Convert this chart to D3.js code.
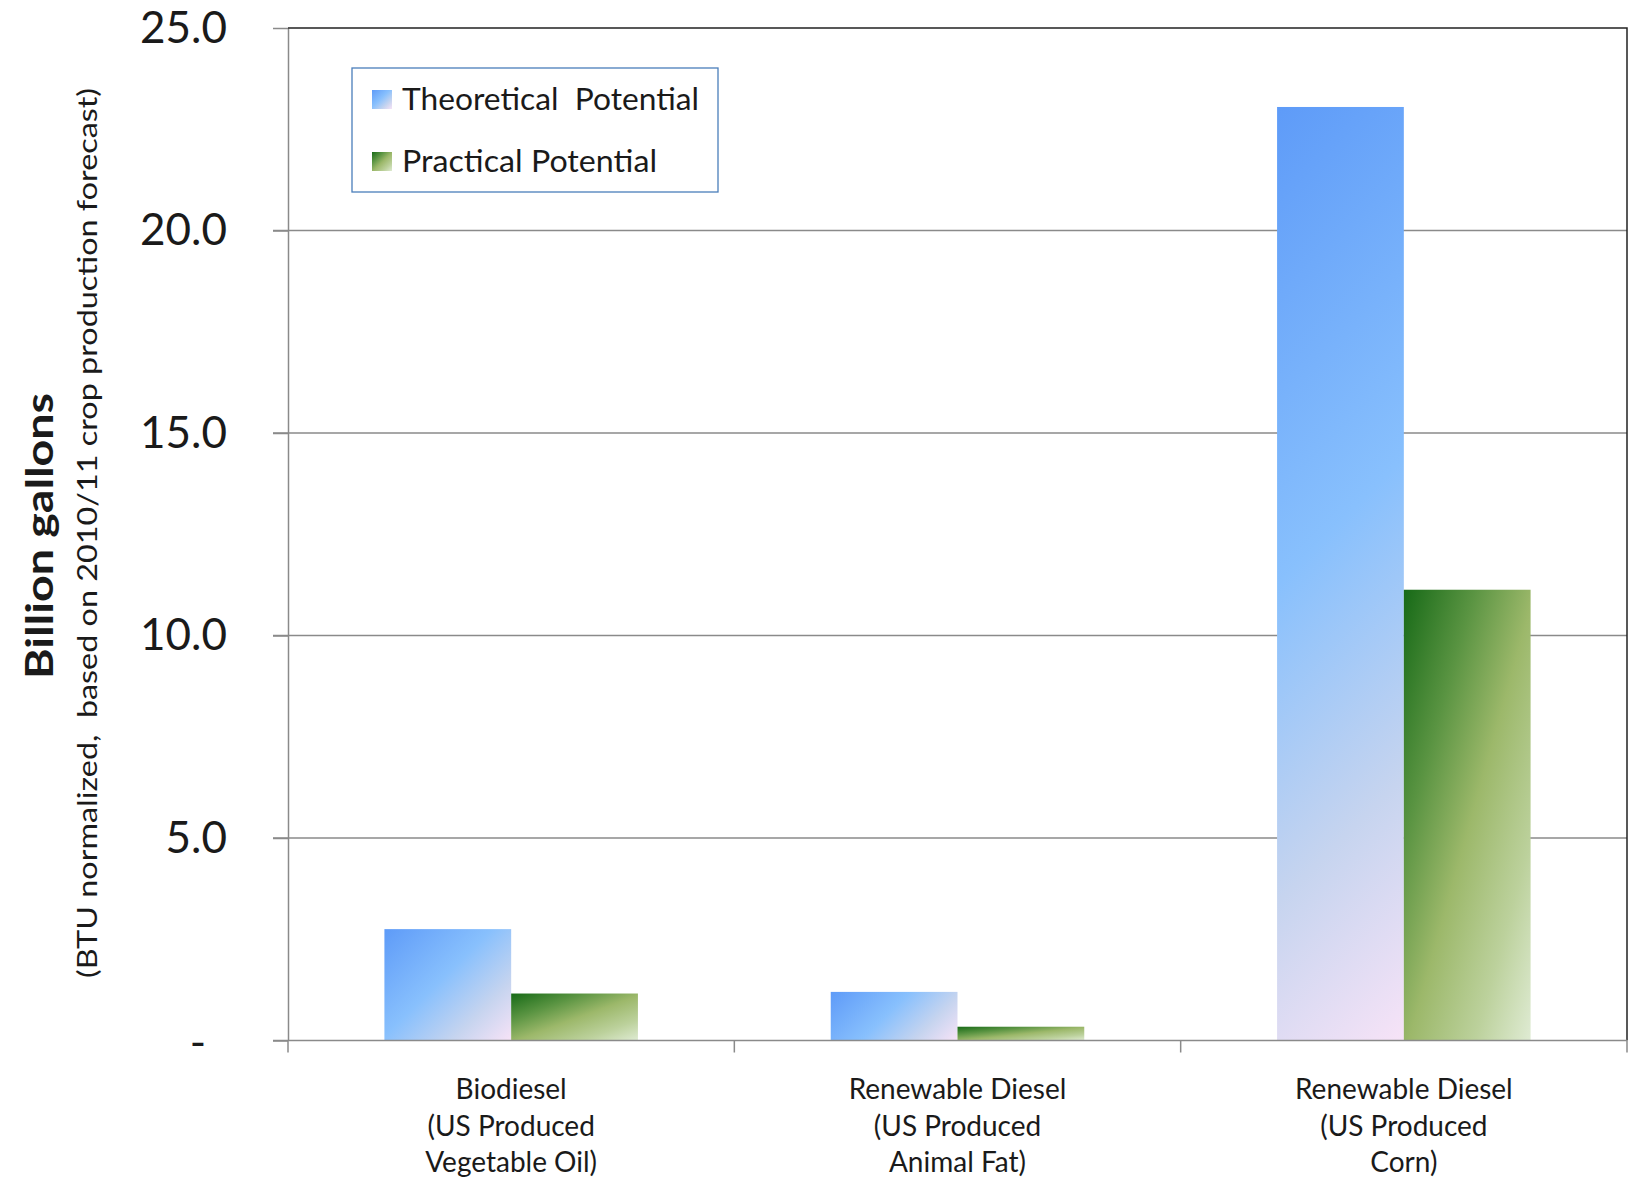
<!DOCTYPE html>
<html>
<head>
<meta charset="utf-8">
<script src="https://cdn.jsdelivr.net/npm/d3@7"></script>
<style>
  html, body { margin: 0; padding: 0; background: #fff; }
  svg { display: block; }
  text { font-family: Lato, "Open Sans", sans-serif; fill: #1a1a1a; }
</style>
</head>
<body>
<svg id="chart" width="1628" height="1179"></svg>
<script>
// ---- data ----
const categories = [
  "Biodiesel\n(US Produced\nVegetable Oil)",
  "Renewable Diesel\n(US Produced\nAnimal Fat)",
  "Renewable Diesel\n(US Produced\nCorn)"
];
const seriesNames = ["Theoretical Potential", "Practical Potential"];
const theoretical = [2.75, 1.20, 23.05];
const practical = [1.16, 0.34, 11.13];
const yTicks = [0, 5, 10, 15, 20, 25];
const yTitle = "Billion gallons";
const ySubtitle = "(BTU normalized,  based on 2010/11 crop production forecast)";

// ---- layout ----
const plot = { left: 288, right: 1627, top: 28, bottom: 1040.5 };

const svg = d3.select("#chart");
const defs = svg.append("defs");

const blueStops = [[0, "#5e9bf8"], [0.45, "#88c0fd"], [0.75, "#c6d4ef"], [1, "#f7e3f7"]];
const greenStops = [[0, "#176a17"], [0.28, "#5a9442"], [0.52, "#9cb86a"], [0.78, "#bcd19c"], [1, "#dfebd3"]];

function addStops(g, stops) {
  stops.forEach(s => g.append("stop").attr("offset", s[0]).attr("stop-color", s[1]));
}
// bounding-box diagonal gradients (used for green bars and legend swatches)
function bboxGrad(id, stops) {
  const g = defs.append("linearGradient").attr("id", id)
    .attr("x1", 0).attr("y1", 0).attr("x2", 1).attr("y2", 1);
  addStops(g, stops);
}
bboxGrad("gBlue", blueStops);
bboxGrad("gGreen", greenStops);

const y = d3.scaleLinear().domain([0, 25]).range([plot.bottom, plot.top]);
const x0 = d3.scaleBand().domain(d3.range(categories.length))
  .range([plot.left, plot.right]).paddingInner(0.432).paddingOuter(0.216);
const x1 = d3.scaleBand().domain(d3.range(seriesNames.length))
  .range([0, x0.bandwidth()]).padding(0);

// blue bars: absolute 45° gradient per bar (in the group's local coordinates)
categories.forEach((c, i) => {
  const bx = x1(0), bw = x1.bandwidth();
  const top = y(theoretical[i]), bh = y(0) - top;
  const L = (bw + bh) / 2;
  const g = defs.append("linearGradient").attr("id", "gBlueBar" + i)
    .attr("gradientUnits", "userSpaceOnUse")
    .attr("x1", bx).attr("y1", top).attr("x2", bx + L).attr("y2", top + L);
  addStops(g, blueStops);
});

// gridlines (5..20), gray, extending left as ticks
svg.append("g").selectAll("line").data(yTicks.filter(t => t > 0 && t < 25)).join("line")
  .attr("x1", plot.left - 15).attr("x2", plot.right)
  .attr("y1", d => y(d)).attr("y2", d => y(d))
  .attr("stroke", "#8a8a8a").attr("stroke-width", 1.5);

// y axis (ticks + labels)
const yAxis = d3.axisLeft(y).tickValues(yTicks).tickSizeInner(15).tickSizeOuter(0).tickPadding(46)
  .tickFormat(d => d === 0 ? "-" : d3.format(".1f")(d));
const gy = svg.append("g").attr("transform", `translate(${plot.left},0)`).call(yAxis);
gy.select(".domain").attr("stroke", "#8a8a8a").attr("stroke-width", 1.5);
gy.selectAll(".tick line").attr("stroke", "#8a8a8a").attr("stroke-width", 1.5);
gy.selectAll(".tick text").style("font-size", "44px").attr("fill", "#1a1a1a")
  .style("font-family", "Lato, sans-serif");
gy.selectAll(".tick text").filter(d => d === 0).attr("dx", "-21").attr("dy", "0.38em");

// top and right plot border (dark)
svg.append("path")
  .attr("d", `M${plot.left},${plot.top}H${plot.right}V${plot.bottom}`)
  .attr("fill", "none").attr("stroke", "#222").attr("stroke-width", 1.5);

// bars
const groups = svg.append("g").selectAll("g").data(categories).join("g")
  .attr("transform", (d, i) => `translate(${x0(i)},0)`);
groups.selectAll("rect")
  .data((d, i) => [{ v: theoretical[i], j: 0, i }, { v: practical[i], j: 1, i }])
  .join("rect")
  .attr("x", d => x1(d.j))
  .attr("width", x1.bandwidth())
  .attr("y", d => y(d.v))
  .attr("height", d => y(0) - y(d.v))
  .attr("fill", d => d.j === 0 ? `url(#gBlueBar${d.i})` : "url(#gGreen)");

// x axis line & category ticks
svg.append("line").attr("x1", plot.left - 15).attr("x2", plot.right)
  .attr("y1", plot.bottom).attr("y2", plot.bottom)
  .attr("stroke", "#8a8a8a").attr("stroke-width", 1.5);
const xTickPos = d3.range(categories.length + 1).map(i =>
  i < categories.length ? x0(i) - x0.step() * x0.paddingInner() / 2 : plot.right);
svg.append("g").selectAll("line").data(xTickPos).join("line")
  .attr("x1", d => d).attr("x2", d => d)
  .attr("y1", plot.bottom).attr("y2", plot.bottom + 12)
  .attr("stroke", "#8a8a8a").attr("stroke-width", 1.5);

// category labels
const labels = svg.append("g").selectAll("text").data(categories).join("text")
  .attr("text-anchor", "middle")
  .attr("transform", (d, i) => `translate(${x0(i) + x0.bandwidth() / 2},1099)`)
  .style("font-size", "28px");
labels.selectAll("tspan").data(d => d.split("\n")).join("tspan")
  .attr("x", 0).attr("dy", (d, k) => k === 0 ? 0 : 36.5).text(d => d);

// axis titles
svg.append("text")
  .attr("transform", `translate(53,536) rotate(-90)`)
  .attr("text-anchor", "middle")
  .attr("textLength", 286).attr("lengthAdjust", "spacingAndGlyphs")
  .style("font-size", "38px").style("font-weight", "bold")
  .text(yTitle);
svg.append("text")
  .attr("transform", `translate(97,533) rotate(-90)`)
  .attr("text-anchor", "middle")
  .attr("textLength", 890).attr("lengthAdjust", "spacingAndGlyphs")
  .style("font-size", "27px").style("white-space", "pre")
  .text(ySubtitle);

// legend
const legend = svg.append("g").attr("transform", "translate(352,68)");
legend.append("rect").attr("width", 366).attr("height", 124)
  .attr("fill", "#fff").attr("stroke", "#4a7ebb").attr("stroke-width", 1.3);
const items = legend.selectAll("g.item").data(seriesNames).join("g").attr("class", "item")
  .attr("transform", (d, i) => `translate(0,${31 + i * 62})`);
items.append("rect").attr("x", 20).attr("y", -9).attr("width", 20).attr("height", 19)
  .attr("fill", (d, i) => i === 0 ? "url(#gBlue)" : "url(#gGreen)");
items.append("text").attr("x", 50).attr("y", 0).attr("dy", "0.36em")
  .style("font-size", "31px").style("white-space", "pre")
  .attr("textLength", (d, i) => i === 0 ? 297 : 255).attr("lengthAdjust", "spacingAndGlyphs")
  .text(d => d === "Theoretical Potential" ? "Theoretical  Potential" : d);
</script>
</body>
</html>
